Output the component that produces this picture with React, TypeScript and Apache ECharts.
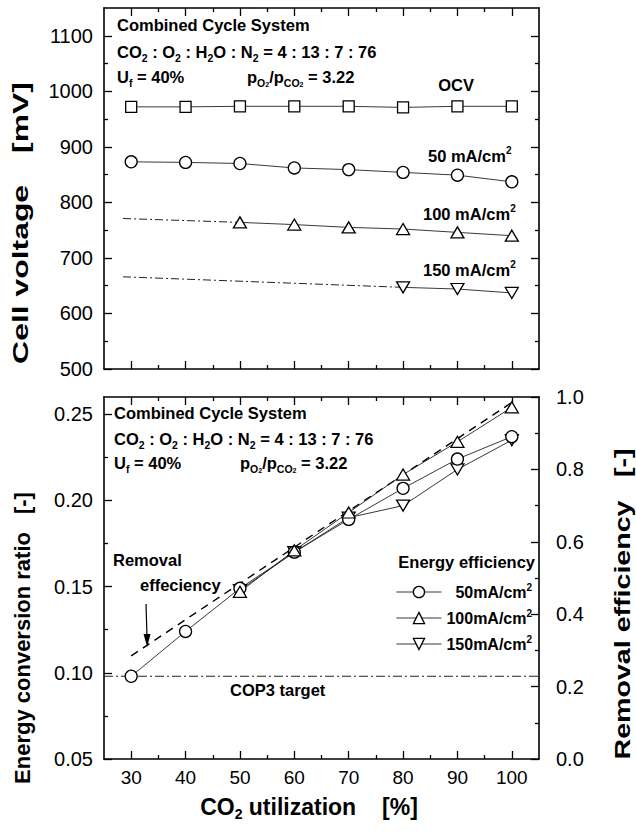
import React, { useEffect, useRef } from 'react';
import * as echarts from 'echarts';

// ---------- data ----------
const utilization = [30, 40, 50, 60, 70, 80, 90, 100];
const xMajorTicks = [30, 40, 50, 60, 70, 80, 90, 100];
const xMinorTicks = [35, 45, 55, 65, 75, 85, 95];

const voltageTicks = [500, 600, 700, 800, 900, 1000, 1100];
const voltageMinorTicks = [550, 650, 750, 850, 950, 1050];
const ratioTicks = [0.05, 0.1, 0.15, 0.2, 0.25];
const ratioMinorTicks = [0.075, 0.125, 0.175, 0.225];
const removalTicks = [0, 0.2, 0.4, 0.6, 0.8, 1.0];
const removalMinorTicks = [0.1, 0.3, 0.5, 0.7, 0.9];

// top panel: cell voltage [mV]
const ocv = [972, 972, 973, 973, 973, 971, 973, 973];
const v50 = [873, 872, 870, 862, 859, 854, 849, 837];
const v100 = [null, null, 764, 760, 755, 752, 746, 740];
const v150 = [null, null, null, null, null, 647, 644, 637];
const v100ExtX = [28.5, 50];
const v100Ext = [771, 764];
const v150ExtX = [28.5, 80];
const v150Ext = [666, 647];

// bottom panel: energy conversion ratio [-] and removal efficiency [-]
const e50 = [0.098, 0.124, 0.149, 0.17, 0.189, 0.207, 0.224, 0.237];
const e100 = [null, null, 0.147, 0.171, 0.193, 0.215, 0.234, 0.254];
const e150 = [null, null, 0.148, 0.17, 0.19, 0.197, 0.218, 0.235];
const removal = [0.285, 0.385, 0.485, 0.585, 0.685, 0.785, 0.885, 0.985];
const cop3X = [25, 105];
const cop3 = [0.098, 0.098];

// ---------- helpers ----------
const FONT = '"Liberation Sans", Arial, Helvetica, sans-serif';

const pairs = (xs: number[], ys: (number | null)[]) =>
  xs.map((x, i) => [x, ys[i]]).filter((p) => p[1] !== null);

function makeAxis(o: any) {
  return {
    type: 'value',
    gridIndex: o.grid,
    position: o.position,
    min: o.min,
    max: o.max,
    axisLine: { show: !o.minor, onZero: false, lineStyle: { color: '#000', width: 1.6 } },
    axisTick: {
      show: true,
      inside: true,
      length: o.minor ? 4 : 8,
      customValues: o.ticks,
      lineStyle: { color: '#000', width: 1.3 },
    },
    axisLabel: o.labels
      ? {
          show: true,
          customValues: o.labels,
          formatter: o.fmt,
          margin: o.margin,
          color: '#000',
          fontSize: o.fontSize || 19,
          fontFamily: FONT,
        }
      : { show: false },
    splitLine: { show: false },
    minorTick: { show: false },
  };
}

const markerStyle = { color: '#fff', borderColor: '#000', borderWidth: 1.3 };
const thinLine = { color: '#222', width: 0.9 };
const invTri = 'path://M0,0L12,0L6,10.5Z';

const bold = { fontWeight: 'bold', fontFamily: FONT, color: '#000' };
const richBase = {
  b: { ...bold, fontSize: 16.5, lineHeight: 22, verticalAlign: 'middle' },
  s: { ...bold, fontSize: 10.5, lineHeight: 11, verticalAlign: 'bottom' },
  ss: { ...bold, fontSize: 7, lineHeight: 6, verticalAlign: 'bottom' },
  p: { ...bold, fontSize: 10, lineHeight: 12, verticalAlign: 'top' },
  t: { ...bold, fontSize: 22, lineHeight: 28, verticalAlign: 'middle' },
  tg: { ...bold, fontSize: 22, lineHeight: 28, verticalAlign: 'middle', padding: [0, 0, 0, 18] },
  tgl: { ...bold, fontSize: 22, lineHeight: 28, verticalAlign: 'middle', padding: [0, 0, 0, 22] },
  x: { ...bold, fontSize: 23, lineHeight: 28, verticalAlign: 'middle' },
  xs: { ...bold, fontSize: 14, lineHeight: 12, verticalAlign: 'bottom' },
  xg: { ...bold, fontSize: 23, lineHeight: 28, verticalAlign: 'middle', padding: [0, 0, 0, 26] },
};

function txt(x: number, y: number, text: string, align = 'left', rotation = 0, scaleX = 1) {
  return {
    type: 'text',
    x,
    y,
    rotation,
    scaleX,
    silent: true,
    style: { text, rich: richBase, align, verticalAlign: 'middle' },
  };
}

const condLine1 = '{b|Combined Cycle System}';
const condLine2 = '{b|CO}{s|2}{b| : O}{s|2}{b| : H}{s|2}{b|O : N}{s|2}{b| = 4 : 13 : 7 : 76}';
const condLine3a = '{b|U}{s|f}{b| = 40%}';
const condLine3b = '{b|p}{s|O}{ss|2}{b|/p}{s|CO}{ss|2}{b| = 3.22}';

export default function App() {
  const ref = useRef<HTMLDivElement>(null);

  useEffect(() => {
    if (!ref.current) return;
    const chart = echarts.init(ref.current, undefined, { renderer: 'svg' });

    const xAxes = [
      makeAxis({ grid: 0, position: 'bottom', min: 25, max: 105, ticks: xMajorTicks }),
      makeAxis({ grid: 0, position: 'bottom', min: 25, max: 105, ticks: xMinorTicks, minor: true }),
      makeAxis({ grid: 0, position: 'top', min: 25, max: 105, ticks: xMajorTicks }),
      makeAxis({ grid: 0, position: 'top', min: 25, max: 105, ticks: xMinorTicks, minor: true }),
      makeAxis({
        grid: 1, position: 'bottom', min: 25, max: 105, ticks: xMajorTicks,
        labels: xMajorTicks, fmt: (v: number) => String(v), margin: 9, fontSize: 19,
      }),
      makeAxis({ grid: 1, position: 'bottom', min: 25, max: 105, ticks: xMinorTicks, minor: true }),
      makeAxis({ grid: 1, position: 'top', min: 25, max: 105, ticks: xMajorTicks }),
      makeAxis({ grid: 1, position: 'top', min: 25, max: 105, ticks: xMinorTicks, minor: true }),
    ];

    const yAxes = [
      makeAxis({
        grid: 0, position: 'left', min: 500, max: 1150, ticks: voltageTicks,
        labels: voltageTicks, fmt: (v: number) => String(v), margin: 11, fontSize: 20,
      }),
      makeAxis({ grid: 0, position: 'left', min: 500, max: 1150, ticks: voltageMinorTicks, minor: true }),
      makeAxis({ grid: 0, position: 'right', min: 500, max: 1150, ticks: voltageTicks }),
      makeAxis({ grid: 0, position: 'right', min: 500, max: 1150, ticks: voltageMinorTicks, minor: true }),
      makeAxis({
        grid: 1, position: 'left', min: 0.05, max: 0.26, ticks: ratioTicks,
        labels: ratioTicks, fmt: (v: number) => v.toFixed(2), margin: 11, fontSize: 20,
      }),
      makeAxis({ grid: 1, position: 'left', min: 0.05, max: 0.26, ticks: ratioMinorTicks, minor: true }),
      makeAxis({
        grid: 1, position: 'right', min: 0, max: 1.0, ticks: removalTicks,
        labels: removalTicks, fmt: (v: number) => v.toFixed(1), margin: 17, fontSize: 20,
      }),
      makeAxis({ grid: 1, position: 'right', min: 0, max: 1.0, ticks: removalMinorTicks, minor: true }),
    ];

    const option: any = {
      animation: false,
      backgroundColor: '#fff',
      grid: [
        { left: 104, top: 8, width: 435, height: 361, outerBoundsMode: 'none' },
        { left: 104, top: 397, width: 435, height: 362, outerBoundsMode: 'none' },
      ],
      xAxis: xAxes,
      yAxis: yAxes,
      legend: {
        data: ['50mA/cm2', '100mA/cm2', '150mA/cm2'],
        orient: 'vertical',
        left: 396,
        top: 582,
        itemWidth: 45,
        itemHeight: 14,
        itemGap: 8,
        padding: 0,
        selectedMode: false,
        lineStyle: { color: '#222', width: 0.9 },
        itemStyle: { color: '#fff', borderColor: '#000', borderWidth: 1.3 },
        formatter: (name: string) =>
          name.startsWith('50')
            ? `{g|${name.slice(0, -1)}}{p|2}`
            : `{n|${name.slice(0, -1)}}{p|2}`,
        textStyle: {
          rich: {
            n: { ...bold, fontSize: 16, lineHeight: 20, verticalAlign: 'middle' },
            g: { ...bold, fontSize: 16, lineHeight: 20, verticalAlign: 'middle', padding: [0, 0, 0, 9] },
            p: { ...bold, fontSize: 10, lineHeight: 12, verticalAlign: 'top' },
          },
        },
      },
      series: [
        // ---- top panel ----
        {
          name: 'OCV', type: 'line', xAxisIndex: 0, yAxisIndex: 0,
          data: pairs(utilization, ocv), symbol: 'rect', symbolSize: 11,
          itemStyle: markerStyle, lineStyle: thinLine,
        },
        {
          name: '50 mA/cm2 voltage', type: 'line', xAxisIndex: 0, yAxisIndex: 0,
          data: pairs(utilization, v50), symbol: 'circle', symbolSize: 12,
          itemStyle: markerStyle, lineStyle: thinLine,
        },
        {
          name: '100 mA/cm2 voltage', type: 'line', xAxisIndex: 0, yAxisIndex: 0,
          data: pairs(utilization, v100), symbol: 'triangle', symbolSize: [13, 11],
          itemStyle: markerStyle, lineStyle: thinLine,
        },
        {
          name: '100 mA/cm2 extrapolated', type: 'line', xAxisIndex: 0, yAxisIndex: 0, z: 1,
          data: pairs(v100ExtX, v100Ext), symbol: 'none',
          lineStyle: { color: '#222', width: 1, type: [8, 3, 2, 3] },
        },
        {
          name: '150 mA/cm2 voltage', type: 'line', xAxisIndex: 0, yAxisIndex: 0,
          data: pairs(utilization, v150), symbol: invTri, symbolSize: [13, 11],
          itemStyle: markerStyle, lineStyle: thinLine,
        },
        {
          name: '150 mA/cm2 extrapolated', type: 'line', xAxisIndex: 0, yAxisIndex: 0, z: 1,
          data: pairs(v150ExtX, v150Ext), symbol: 'none',
          lineStyle: { color: '#222', width: 1, type: [8, 3, 2, 3] },
        },
        // ---- bottom panel ----
        {
          name: 'COP3 target', type: 'line', xAxisIndex: 4, yAxisIndex: 4, z: 1,
          data: pairs(cop3X, cop3), symbol: 'none',
          lineStyle: { color: '#222', width: 1, type: [9, 3, 2, 3] },
        },
        {
          name: 'Removal efficiency', type: 'line', xAxisIndex: 4, yAxisIndex: 6, z: 1,
          data: pairs(utilization, removal), symbol: 'none',
          lineStyle: { color: '#000', width: 1.4, type: [8, 6] },
        },
        {
          name: '150mA/cm2', type: 'line', xAxisIndex: 4, yAxisIndex: 4,
          data: pairs(utilization, e150), symbol: invTri, symbolSize: [13, 11],
          itemStyle: markerStyle, lineStyle: thinLine,
        },
        {
          name: '50mA/cm2', type: 'line', xAxisIndex: 4, yAxisIndex: 4,
          data: pairs(utilization, e50), symbol: 'circle', symbolSize: 12,
          itemStyle: markerStyle, lineStyle: thinLine,
        },
        {
          name: '100mA/cm2', type: 'line', xAxisIndex: 4, yAxisIndex: 4,
          data: pairs(utilization, e100), symbol: 'triangle', symbolSize: [13, 11],
          itemStyle: markerStyle, lineStyle: thinLine,
        },
      ],
      graphic: [
        // top panel annotations
        txt(117, 25, condLine1),
        txt(117, 52, condLine2),
        txt(117, 77, condLine3a),
        txt(247, 77, condLine3b),
        txt(456, 85, '{b|OCV}', 'center'),
        txt(428, 156, '{b|50 mA/cm}{p|2}'),
        txt(423, 214, '{b|100 mA/cm}{p|2}'),
        txt(423, 270, '{b|150 mA/cm}{p|2}'),
        // bottom panel annotations
        txt(114, 413, condLine1),
        txt(114, 439, condLine2),
        txt(114, 463, condLine3a),
        txt(240, 463, condLine3b),
        txt(113, 560, '{b|Removal}'),
        txt(140, 585, '{b|effeciency}'),
        txt(230, 690, '{b|COP3 target}'),
        txt(535, 562, '{b|Energy efficiency}', 'right'),
        {
          type: 'line', silent: true,
          shape: { x1: 146, y1: 604, x2: 147, y2: 637 },
          style: { stroke: '#000', lineWidth: 1.2 },
        },
        {
          type: 'polygon', silent: true,
          shape: { points: [[143.5, 634], [150.5, 634], [147.2, 647]] },
          style: { fill: '#000' },
        },
        // axis titles
        txt(20, 223, '{t|Cell voltage}{tgl|[mV]}', 'center', Math.PI / 2, 1.45),
        txt(22, 638, '{t|Energy conversion ratio}{tg|[-]}', 'center', Math.PI / 2),
        txt(622, 604, '{t|Removal efficiency}{tg|[-]}', 'center', Math.PI / 2, 1.3),
        txt(309, 807, '{x|CO}{xs|2}{x| utilization}{xg|[%]}', 'center'),
      ],
    };

    chart.setOption(option);
    return () => chart.dispose();
  }, []);

  return (
    <div
      ref={ref}
      style={{ position: 'absolute', left: 0, top: 0, width: 636, height: 836, background: '#fff' }}
    />
  );
}
